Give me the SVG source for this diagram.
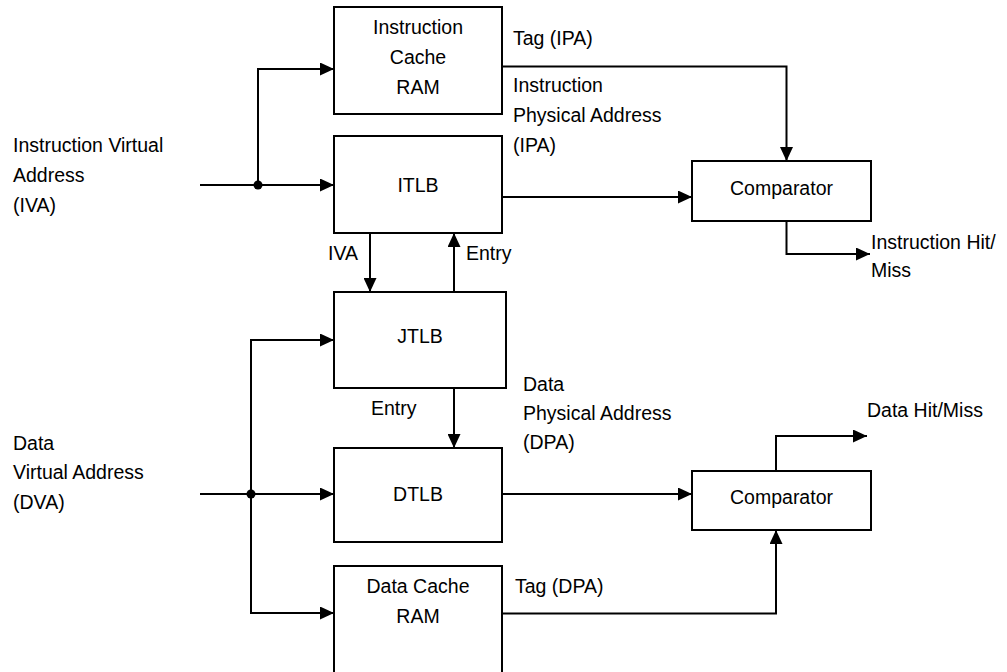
<svg xmlns="http://www.w3.org/2000/svg" width="1007" height="672" viewBox="0 0 1007 672">
<style>
.box{fill:#fff;stroke:#000;stroke-width:2}
.ln{fill:none;stroke:#000;stroke-width:2;marker-end:url(#ah)}
.pl{fill:none;stroke:#000;stroke-width:2}
text{font-family:"Liberation Sans",Arial,sans-serif;font-size:19.5px;fill:#000}
.c{text-anchor:middle}
</style>
<defs>
<marker id="ah" markerUnits="userSpaceOnUse" markerWidth="14" markerHeight="13" refX="14" refY="6.5" orient="auto">
<path d="M0,0 L14,6.5 L0,13 z" fill="#000"/>
</marker>
</defs>
<rect width="1007" height="672" fill="#fff"/>
<g id="connectors">
<path class="ln" d="M200,185 H334"/>
<path class="ln" d="M258,185 V69 H334"/>
<circle cx="258" cy="185" r="4.5" fill="#000"/>
<path class="ln" d="M502,66.5 H786.5 V161"/>
<path class="ln" d="M502,197 H692"/>
<path class="ln" d="M786.5,221 V254 H870"/>
<path class="ln" d="M370,233 V292"/>
<path class="ln" d="M454,292 V233"/>
<path class="ln" d="M454,388 V448"/>
<path class="ln" d="M200,494 H334"/>
<path class="ln" d="M251,494 V340 H334"/>
<path class="ln" d="M251,494 V613 H334"/>
<circle cx="251" cy="494" r="4.5" fill="#000"/>
<path class="ln" d="M502,494 H692"/>
<path class="ln" d="M502,613.5 H776 V530"/>
<path class="ln" d="M776,471 V436 H867"/>
</g>
<g id="icache">
<rect class="box" x="334" y="7" width="168" height="107"/>
<text class="c" x="418" y="34">Instruction</text>
<text class="c" x="418" y="64">Cache</text>
<text class="c" x="418" y="94">RAM</text>
</g>
<g id="itlb">
<rect class="box" x="334" y="136" width="168" height="97"/>
<text class="c" x="418" y="192">ITLB</text>
</g>
<g id="jtlb">
<rect class="box" x="334" y="292" width="172" height="96"/>
<text class="c" x="420" y="343">JTLB</text>
</g>
<g id="dtlb">
<rect class="box" x="334" y="448" width="168" height="94"/>
<text class="c" x="418" y="501">DTLB</text>
</g>
<g id="dcache">
<rect class="box" x="334" y="566" width="168" height="120"/>
<text class="c" x="418" y="593">Data Cache</text>
<text class="c" x="418" y="623">RAM</text>
</g>
<g id="comp1">
<rect class="box" x="692" y="161" width="179" height="60"/>
<text class="c" x="781.5" y="195">Comparator</text>
</g>
<g id="comp2">
<rect class="box" x="692" y="471" width="179" height="59"/>
<text class="c" x="781.5" y="504">Comparator</text>
</g>
<g id="labels">
<text x="513" y="45">Tag (IPA)</text>
<text x="513" y="92">Instruction</text>
<text x="513" y="122">Physical Address</text>
<text x="513" y="152">(IPA)</text>
<text x="328" y="260">IVA</text>
<text x="466" y="260">Entry</text>
<text x="371" y="415">Entry</text>
<text x="523" y="391">Data</text>
<text x="523" y="420">Physical Address</text>
<text x="523" y="449">(DPA)</text>
<text x="515" y="593">Tag (DPA)</text>
<text x="867" y="417">Data Hit/Miss</text>
<text x="871" y="249">Instruction Hit/</text>
<text x="871" y="277">Miss</text>
<text x="13" y="152">Instruction Virtual</text>
<text x="13" y="182">Address</text>
<text x="13" y="212">(IVA)</text>
<text x="13" y="450">Data</text>
<text x="13" y="479">Virtual Address</text>
<text x="13" y="509">(DVA)</text>
</g>
</svg>
